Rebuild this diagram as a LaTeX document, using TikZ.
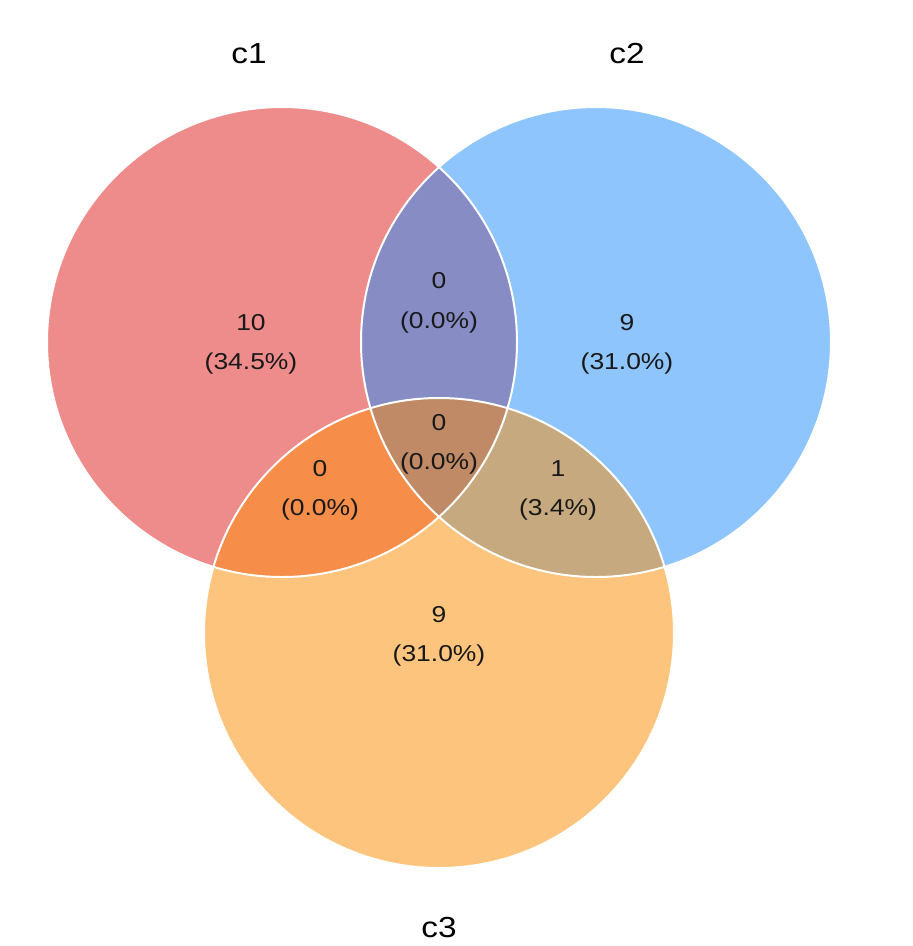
\documentclass[tikz,border=0pt]{standalone}
\usepackage{fontspec}
\newfontfamily\vennfont{Liberation Sans}[FakeStretch=1.15]
\definecolor{cA}{HTML}{EE8B8B}
\definecolor{cB}{HTML}{8DC5FC}
\definecolor{cC}{HTML}{FDC47E}
\definecolor{cAB}{HTML}{878CC5}
\definecolor{cAC}{HTML}{F68D48}
\definecolor{cBC}{HTML}{C6A97E}
\definecolor{cABC}{HTML}{BF8A65}
\tikzset{
  num/.style={anchor=base, inner sep=0pt, font=\vennfont\fontsize{23}{28}\selectfont, text=black!90},
  ttl/.style={anchor=base, inner sep=0pt, font=\vennfont\fontsize{29}{35}\selectfont, text=black},
  edge/.style={draw=white, line width=2pt}
}
\begin{document}
\begin{tikzpicture}[x=1pt,y=-1pt]
\useasboundingbox (0,0) rectangle (913,946);
\def\R{235}
\coordinate (A) at (282,342);
\coordinate (B) at (596,342);
\coordinate (C) at (439,633);
% base fills
\fill[cA] (A) circle (\R);
\fill[cB] (B) circle (\R);
\fill[cC] (C) circle (\R);
% pairwise
\begin{scope}
  \clip (A) circle (\R);
  \fill[cAB] (B) circle (\R);
  \fill[cAC] (C) circle (\R);
\end{scope}
\begin{scope}
  \clip (B) circle (\R);
  \fill[cBC] (C) circle (\R);
\end{scope}
\begin{scope}
  \clip (A) circle (\R);
  \clip (B) circle (\R);
  \fill[cABC] (C) circle (\R);
\end{scope}
% outlines
\draw[edge] (A) circle (\R);
\draw[edge] (B) circle (\R);
\draw[edge] (C) circle (\R);
% titles
\node[ttl] (t1) at (249,63) {c1};
\node[ttl] (t2) at (627,63) {c2};
\node[ttl] (t3) at (439,937) {c3};
% region labels
\node[num] (a1) at (251,330) {10};
\node[num] (a2) at (251,369) {(34.5\%)};
\node[num] (ab1) at (439,288) {0};
\node[num] (ab2) at (439,328) {(0.0\%)};
\node[num] (b1) at (627,330) {9};
\node[num] (b2) at (627,369) {(31.0\%)};
\node[num] (abc1) at (439,430) {0};
\node[num] (abc2) at (439,469) {(0.0\%)};
\node[num] (ac1) at (320,476) {0};
\node[num] (ac2) at (320,515) {(0.0\%)};
\node[num] (bc1) at (558,476) {1};
\node[num] (bc2) at (558,515) {(3.4\%)};
\node[num] (c1) at (439,622) {9};
\node[num] (c2) at (439,661) {(31.0\%)};
\end{tikzpicture}
\end{document}
